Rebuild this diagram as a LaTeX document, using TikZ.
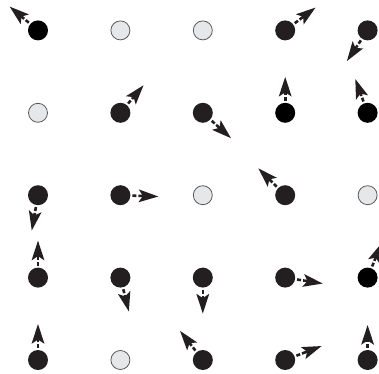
\documentclass[tikz,border=0pt]{standalone}
\usetikzlibrary{arrows.meta, calc}
\usepackage{xcolor}
\definecolor{spdark}{HTML}{231F20}
\definecolor{spempty}{HTML}{E6E7E8}
\definecolor{spedge}{HTML}{58595B}

\begin{document}
\begin{tikzpicture}[x=82.4pt, y=82.4pt,
    site/.style={circle, inner sep=0pt, outer sep=0pt, minimum size=20pt},
    full/.style={site, fill=spdark},
    fullk/.style={site, fill=black},
    empty/.style={site, fill=spempty, draw=spedge, line width=0.8pt, minimum size=19pt},
    spin/.style={draw=spdark, line width=2.6pt, shorten <=2pt,
                 dash pattern=on 4pt off 2pt on 40pt off 0pt,
                 -{Stealth[length=19.5pt, width=12.5pt, inset=4pt, fill=spdark]}}]
  \useasboundingbox (-38pt,-13pt) rectangle (341pt,360pt);

  % row 1
  \node[fullk] (s11) at (0,4) {};
  \node[empty] (s12) at (1,4) {};
  \node[empty] (s13) at (2,4) {};
  \node[full]  (s14) at (3,4) {};
  \node[full]  (s15) at (4,4) {};
  % row 2
  \node[empty] (s21) at (0,3) {};
  \node[full]  (s22) at (1,3) {};
  \node[full]  (s23) at (2,3) {};
  \node[fullk] (s24) at (3,3) {};
  \node[fullk] (s25) at (4,3) {};
  % row 3
  \node[full]  (s31) at (0,2) {};
  \node[full]  (s32) at (1,2) {};
  \node[empty] (s33) at (2,2) {};
  \node[full]  (s34) at (3,2) {};
  \node[empty] (s35) at (4,2) {};
  % row 4
  \node[full]  (s41) at (0,1) {};
  \node[full]  (s42) at (1,1) {};
  \node[full]  (s43) at (2,1) {};
  \node[full]  (s44) at (3,1) {};
  \node[fullk] (s45) at (4,1) {};
  % row 5
  \node[full]  (s51) at (0,0) {};
  \node[empty] (s52) at (1,0) {};
  \node[full]  (s53) at (2,0) {};
  \node[full]  (s54) at (3,0) {};
  \node[full]  (s55) at (4,0) {};

  % arrow tips
  \coordinate (t11) at ($(s11)+(140:37pt)$);
  \coordinate (t14) at ($(s14)+(37:38pt)$);
  \coordinate (t15) at ($(s15)+(236:37pt)$);
  \coordinate (t22) at ($(s22)+(50:36pt)$);
  \coordinate (t23) at ($(s23)+(318:38pt)$);
  \coordinate (t24) at ($(s24)+(90:36pt)$);
  \coordinate (t25) at ($(s25)+(110:36pt)$);
  \coordinate (t31) at ($(s31)+(260:36pt)$);
  \coordinate (t32) at ($(s32)+(-2:38pt)$);
  \coordinate (t34) at ($(s34)+(135:38pt)$);
  \coordinate (t41) at ($(s41)+(90:37pt)$);
  \coordinate (t42) at ($(s42)+(284:35pt)$);
  \coordinate (t43) at ($(s43)+(270:36pt)$);
  \coordinate (t44) at ($(s44)+(351:38pt)$);
  \coordinate (t45) at ($(s45)+(68:37pt)$);
  \coordinate (t51) at ($(s51)+(90:36pt)$);
  \coordinate (t53) at ($(s53)+(128:37pt)$);
  \coordinate (t54) at ($(s54)+(21:39pt)$);
  \coordinate (t55) at ($(s55)+(90:35pt)$);

  \draw[spin] (s11.140) -- (t11);
  \draw[spin] (s14.37) -- (t14);
  \draw[spin] (s15.236) -- (t15);
  \draw[spin] (s22.50) -- (t22);
  \draw[spin] (s23.318) -- (t23);
  \draw[spin] (s24.90) -- (t24);
  \draw[spin] (s25.110) -- (t25);
  \draw[spin] (s31.260) -- (t31);
  \draw[spin] (s32.-2) -- (t32);
  \draw[spin] (s34.135) -- (t34);
  \draw[spin] (s41.90) -- (t41);
  \draw[spin] (s42.284) -- (t42);
  \draw[spin] (s43.270) -- (t43);
  \draw[spin] (s44.351) -- (t44);
  \draw[spin] (s45.68) -- (t45);
  \draw[spin] (s51.90) -- (t51);
  \draw[spin] (s53.128) -- (t53);
  \draw[spin] (s54.21) -- (t54);
  \draw[spin] (s55.90) -- (t55);
\end{tikzpicture}
\end{document}
